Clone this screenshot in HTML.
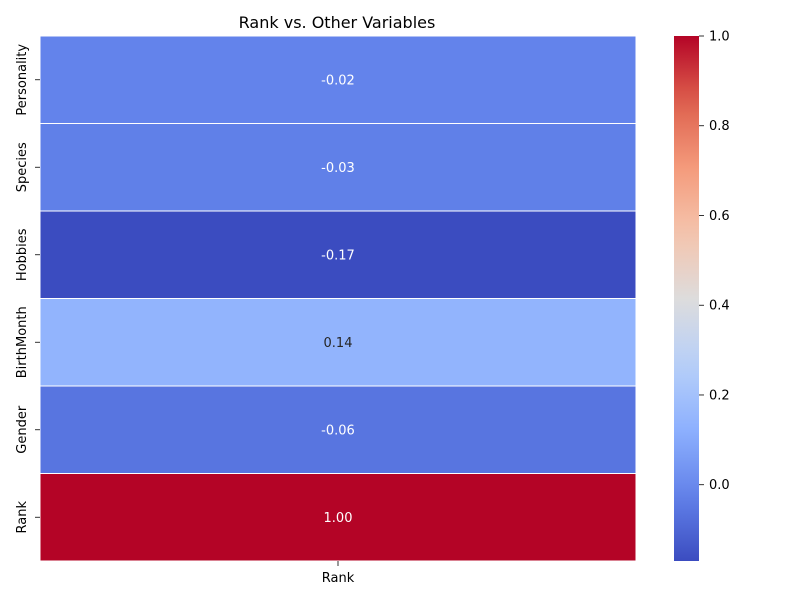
<!DOCTYPE html>
<html><head><meta charset="utf-8"><style>
body{margin:0;background:#fff;}
svg text{font-family:"DejaVu Sans","Liberation Sans",sans-serif;}
</style></head><body>
<svg id="chart" width="800" height="600" xmlns="http://www.w3.org/2000/svg">
<rect width="800" height="600" fill="#fff"/>
<text x="337" y="28" font-size="16" text-anchor="middle" fill="#000">Rank vs. Other Variables</text>
<g id="cells"></g>
<g id="cbar"></g>
</svg>
<script>
const rowLabels = ["Personality","Species","Hobbies","BirthMonth","Gender","Rank"];
const colLabels = ["Rank"];
const values = [-0.02,-0.03,-0.17,0.14,-0.06,1.00];
const cbarTicks = [0.0,0.2,0.4,0.6,0.8,1.0];

const NS="http://www.w3.org/2000/svg";
const X0=40,X1=636,Y0=36,Y1=561;
const vmin=Math.min(...values), vmax=Math.max(...values);
const stops=[[59,76,192],[98,130,234],[141,176,254],[184,208,249],[221,220,220],[245,196,173],[244,154,123],[222,96,77],[180,4,38]];
function cmap(t){t=Math.max(0,Math.min(1,t));const p=t*(stops.length-1);const i=Math.min(Math.floor(p),stops.length-2);const f=p-i;
 const c=stops[i].map((v,k)=>Math.round(v+(stops[i+1][k]-v)*f));return `rgb(${c[0]},${c[1]},${c[2]})`;}
function norm(v){return (v-vmin)/(vmax-vmin);}
function mk(tag,attrs,parent){const e=document.createElementNS(NS,tag);for(const k in attrs)e.setAttribute(k,attrs[k]);parent.appendChild(e);return e;}
const cells=document.getElementById('cells');
const rh=(Y1-Y0)/rowLabels.length, cw=(X1-X0)/colLabels.length;
function yPos(i){return Y0+i*rh;}
values.forEach((v,i)=>{
 const r=mk('rect',{x:X0,y:yPos(i),width:cw,height:rh,fill:cmap(norm(v)),stroke:'#fff','stroke-width':1},cells);
 
 
 const t=mk('text',{x:X0+cw/2,y:yPos(i)+rh/2+4.5,'font-size':13,'text-anchor':'middle',fill:norm(v)>0.15&&norm(v)<0.85?'#262626':'#fff'},cells);
 t.textContent=v.toFixed(2);
 
 
 const yc=yPos(i)+rh/2;
 mk('line',{x1:X0-5,x2:X0,y1:yc,y2:yc,stroke:'#000','stroke-width':0.8},cells);
 const l=mk('text',{x:0,y:0,'font-size':13,'text-anchor':'middle',transform:`translate(26,${yc}) rotate(-90)`,fill:'#000'},cells);
 l.textContent=rowLabels[i];
 
 
});
colLabels.forEach((c,j)=>{
 const xc=X0+cw*(j+0.5);
 mk('line',{x1:xc,x2:xc,y1:Y1,y2:Y1+5,stroke:'#000','stroke-width':0.8},cells);
 const t=mk('text',{x:xc,y:582,'font-size':13,'text-anchor':'middle',fill:'#000'},cells);
 t.textContent=c;
 
 
});
const cb=document.getElementById('cbar');
const CX=674,CW=25;
const defs=mk('defs',{},cb);
const g=mk('linearGradient',{id:'cg',x1:0,y1:1,x2:0,y2:0},defs);
for(let k=0;k<=20;k++)mk('stop',{offset:k/20,'stop-color':cmap(k/20)},g);
const cr=mk('rect',{x:CX,y:Y0,width:CW,height:Y1-Y0,fill:'url(#cg)'},cb);


function cy(v){return Y1-(v-vmin)/(vmax-vmin)*(Y1-Y0);}
cbarTicks.forEach(v=>{
 const y=cy(v);
 mk('line',{x1:CX+CW,x2:CX+CW+5,y1:y,y2:y,stroke:'#000','stroke-width':0.8},cb);
 const t=mk('text',{x:CX+CW+10,y:y+4.5,'font-size':13,fill:'#000'},cb);
 t.textContent=v.toFixed(1);
 
 
});
</script>
</body></html>
